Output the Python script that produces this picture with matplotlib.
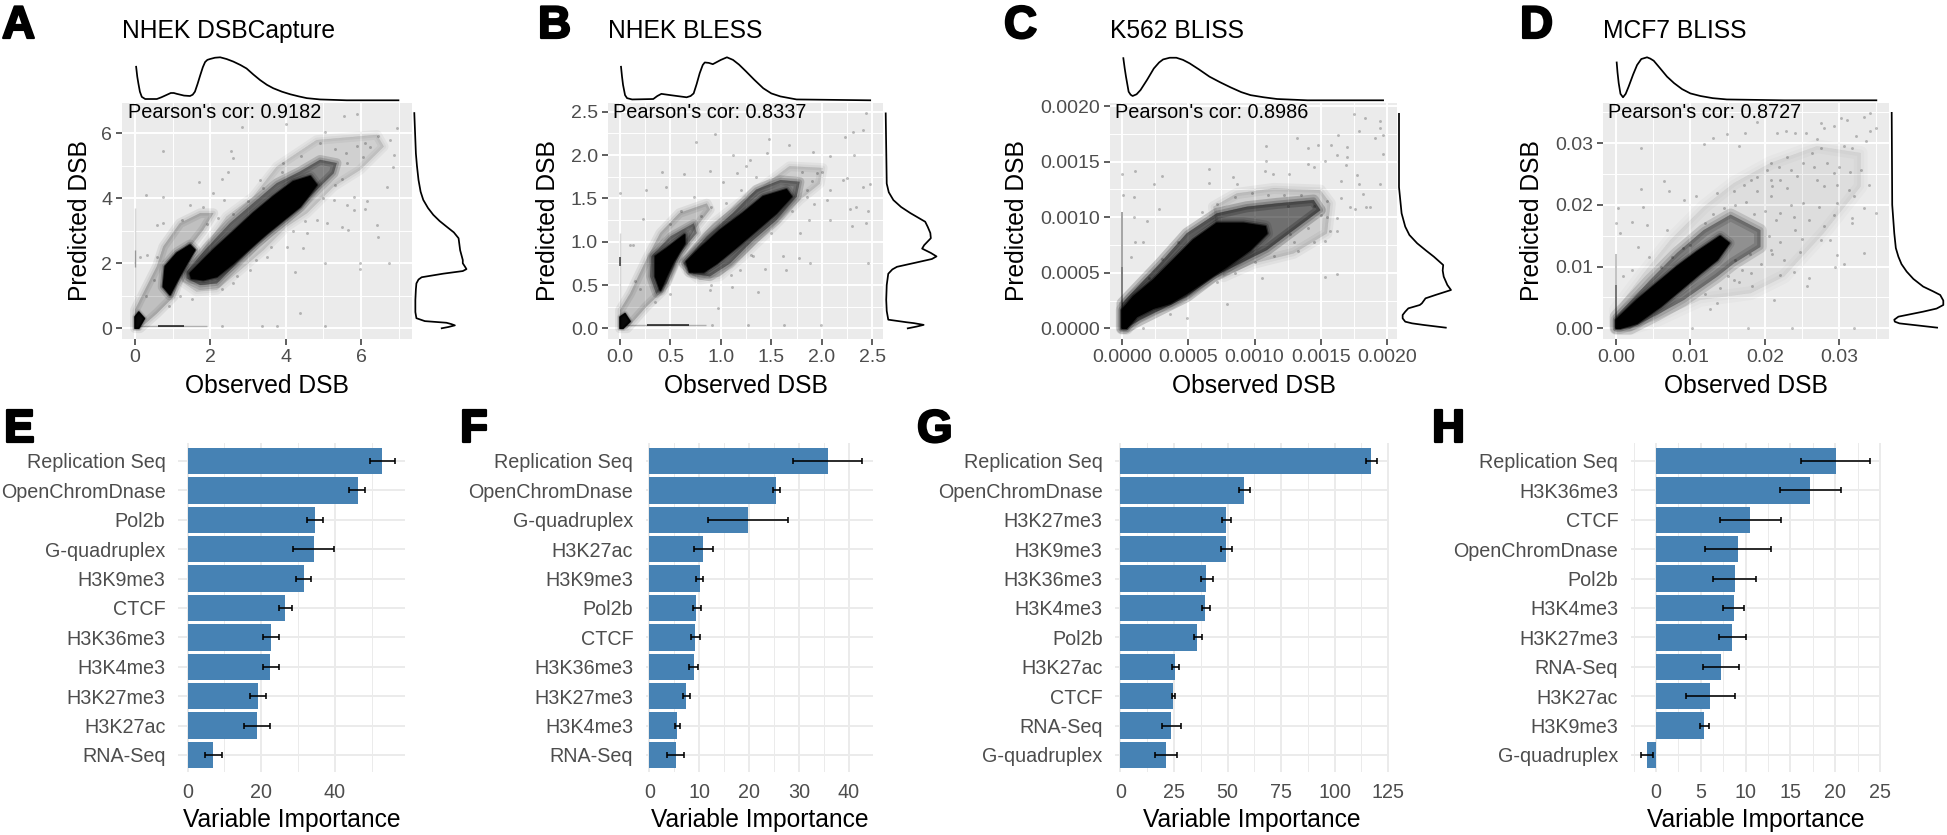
import numpy as np
import matplotlib
matplotlib.use("Agg")
import matplotlib.pyplot as plt
from matplotlib.patches import Polygon
import matplotlib.patheffects as pe

plt.rcParams['font.family'] = ['Liberation Sans', 'DejaVu Sans']
W, H = 1947, 835

# ---------- scatter panels: titles and correlations ----------
titles = ["NHEK DSBCapture", "NHEK BLESS", "K562 BLISS", "MCF7 BLISS"]
cors = ["0.9182", "0.8337", "0.8986", "0.8727"]

# ---------- panel A ----------
A_core = [(1.46,1.69),(2.08,2.41),(2.61,2.97),(3.14,3.54),(3.67,4.05),(4.20,4.51),(4.65,4.67),(4.82,4.41),(4.38,3.74),(3.94,3.33),(3.50,2.92),(3.05,2.46),(2.61,2.00),(2.17,1.59),(1.81,1.49),(1.50,1.54)]
A_core2 = [(0.80,1.90),(1.11,2.31),(1.46,2.56),(1.59,2.41),(1.33,1.90),(1.11,1.44),(0.93,1.03),(0.75,1.28)]
A_mid = [(1.37,1.74),(1.90,2.46),(2.52,3.23),(3.14,3.85),(3.76,4.46),(4.38,4.82),(4.91,5.18),(5.35,5.08),(5.27,4.77),(4.82,4.26),(4.29,3.64),(3.76,3.13),(3.23,2.62),(2.70,2.0),(2.17,1.38),(1.73,1.33),(1.37,1.54)]
A_outer = [(1.19,1.74),(1.73,2.31),(2.43,3.44),(3.14,4.05),(3.76,4.97),(4.82,5.79),(6.42,5.95),(6.6,5.59),(5.97,4.87),(5.27,4.36),(4.56,3.54),(4.03,3.13),(3.41,2.41),(2.79,1.79),(2.17,1.18),(1.63,1.13),(1.24,1.44)]
A_diag = [(0,0),(0,0.56),(0.13,0.87),(0.58,1.90),(0.75,2.51),(1.19,3.23),(1.73,3.54),(2.08,3.54),(1.81,3.03),(1.46,2.51),(1.19,1.59),(1.02,0.97),(0.58,0.46),(0.13,0)]
A_origin = [(0,0),(0,0.35),(0.1,0.5),(0.25,0.3),(0.1,0)]
A_hstreak = [(0.6,0.08),(1.3,0.08)]
A_hstreak2 = [(0.1,0.08),(1.9,0.08)]
A_vstreak = [(0,0),(0,3.7)]
A_vstreak2 = [(0,1.9),(0,2.4)]
A_points = [(5.55,6.54),(5.9,6.6),(2.83,6.2),(4.0,6.27),(5.04,6.05),(6.96,6.15),(.73,5.46),(2.54,5.46),(2.6,5.23),(2.48,4.82),(2.3,4.6),(1.7,4.5),(.28,4.1),(.75,4.05),(2.08,4.15),(2.35,3.95),(1.81,3.74),(6.86,5.33),(6.84,4.97),(6.68,4.36),(5.8,4.05),(6.15,3.9),(5.8,3.64),(6.09,3.66),(5.62,3.79),(5.27,3.95),(5.09,3.23),(5.49,3.13),(5.66,3.03),(6.46,2.82),(6.42,3.18),(6.73,2.0),(5.96,2.0),(5.96,1.83),(4.47,2.46),(4.25,1.74),(5.04,2.0),(4.38,.46),(3.36,.08),(3.76,.08),(5.04,.08),(2.3,.08),(.58,3.18),(.75,3.23),(1.24,3.33),(1.46,3.79),(.13,2.2),(.31,2.26),(.58,2.2),(6.46,5.9),(6.77,5.8),(6.24,5.59),(6.06,5.28),(5.62,5.08),(4.91,5.69),(3.94,5.08),(3.32,4.56),(4.56,2.92),(4.82,3.33),(4.03,2.51),(3.5,2.2),(3.05,1.79),(2.61,1.38),
            (5.3,5.5),(5.6,5.4),(5.9,5.6),(6.1,5.7),(5.5,4.6),(5.3,4.4),(5,4),(4.5,3.3),(4.2,3),(3.6,2.5),(3.2,2.1),(2.7,1.6),(2.3,1.2),(1.9,3.2),(2.2,3.4),(2.6,3.5),(3.0,3.9),(3.4,4.3),(3.9,4.8),(4.4,5.3),(.3,1.0),(.5,1.5),(.9,.7),(1.2,1.0),(1.5,.9)]
A_top_x = [.03,.06,.09,.13,.18,.27,.45,.58,.70,.80,.95,1.03,1.11,1.3,1.46,1.53,1.59,1.66,1.73,1.80,1.86,1.92,1.99,2.12,2.26,2.43,2.61,2.8,2.96,3.14,3.32,3.5,3.67,3.9,4.12,4.35,4.56,4.91,5.62,6.99]
A_top_d = [.78,.55,.39,.2,.08,.03,.03,.03,.07,.11,.17,.17,.15,.11,.10,.13,.20,.38,.58,.77,.89,.94,.96,.99,1.0,.96,.90,.82,.74,.60,.47,.36,.28,.20,.14,.09,.05,.02,0,0]
A_right_y = [0,.04,.09,.13,.17,.22,.31,.5,.87,1.2,1.38,1.5,1.57,1.68,1.76,1.82,1.9,2.0,2.10,2.4,2.77,2.95,3.13,3.3,3.49,3.7,3.95,4.2,4.56,5,5.38,6.62]
A_right_d = [.52,.65,.77,.70,.61,.2,.04,.02,.02,.03,.04,.08,.14,.55,.92,.99,.96,.92,.92,.87,.84,.75,.61,.48,.36,.26,.17,.12,.08,.05,.03,0]

# ---------- panel B ----------
B_core = [(0.66,0.77),(0.79,0.92),(0.99,1.13),(1.22,1.33),(1.42,1.52),(1.65,1.60),(1.70,1.52),(1.55,1.33),(1.35,1.13),(1.16,0.94),(0.96,0.75),(0.83,0.65),(0.69,0.65)]
B_core2 = [(0.35,0.83),(0.46,0.92),(0.64,1.08),(0.64,0.98),(0.53,0.77),(0.46,0.60),(0.40,0.44),(0.35,0.60)]
B_mid = [(0.63,0.75),(0.86,1.06),(1.12,1.33),(1.35,1.60),(1.59,1.71),(1.78,1.69),(1.75,1.52),(1.55,1.25),(1.32,1.02),(1.09,0.75),(0.89,0.60),(0.73,0.63)]
B_outer = [(0.61,0.79),(0.92,1.21),(1.22,1.48),(1.45,1.67),(1.68,1.87),(2.01,1.85),(1.98,1.67),(1.78,1.48),(1.52,1.17),(1.22,0.83),(0.99,0.60),(0.79,0.56),(0.66,0.67)]
B_diag = [(0,0),(0,0.21),(0.10,0.40),(0.26,0.79),(0.40,1.10),(0.59,1.33),(0.86,1.44),(0.89,1.37),(0.73,1.13),(0.56,0.79),(0.43,0.44),(0.26,0.25),(0.07,0)]
B_mid2 = [(0.31,0.83),(0.50,1.06),(0.73,1.21),(0.76,1.10),(0.59,0.87),(0.46,0.52),(0.36,0.40),(0.30,0.60)]
B_origin = [(0,0),(0,0.13),(0.05,0.17),(0.1,0.08),(0.03,0)]
B_hstreak = [(0.27,0.04),(0.68,0.04)]
B_hstreak2 = [(0.05,0.04),(0.85,0.04)]
B_vstreak = [(0,0),(0,1.1)]
B_vstreak2 = [(0,0.72),(0,0.82)]
B_points = [(2.44,2.48),(2.41,2.29),(2.31,2.27),(2.23,2.21),(.94,2.24),(.75,2.15),(1.48,2.19),(1.68,2.12),(1.12,2.0),(1.46,2.02),(1.91,2.04),(2.08,1.99),(2.32,2.0),(1.29,1.94),(1.25,1.87),(.42,1.8),(.63,1.78),(.89,1.81),(1.16,1.79),(.26,1.6),(0,1.56),(.46,1.63),(.73,1.52),(1.02,1.69),(2.21,1.71),(2.25,1.73),(2.08,1.6),(2.41,1.63),(2.48,1.67),(2.05,1.48),(2.28,1.38),(2.34,1.4),(2.46,1.35),(2.08,1.25),(2.3,1.18),(2.44,1.21),(2.46,.75),(1.88,.75),(1.78,1.1),(1.87,1.25),(1.62,.83),(1.77,.81),(1.44,.69),(1.65,.67),(1.37,.42),(1.11,.48),(.97,.23),(.89,.44),(.23,1.26),(.13,.96),(.1,.96),(1.27,.04),(1.63,.04),(1.99,.04),(.91,.04),(1.85,1.52),(1.95,1.79),(1.92,1.44),(1.32,.83),(1.19,.67),
            (1.8,1.8),(1.9,1.7),(2.0,1.8),(1.85,1.6),(1.7,1.35),(1.5,1.1),(1.3,.85),(1.1,.62),(.9,.5),(.8,1.3),(.9,1.4),(1.05,1.45),(1.2,1.6),(1.35,1.75),(.6,1.35),(.5,1.2),(.15,.55),(.2,.45),(.35,.3),(.5,.4)]
B_top_x = [.01,.02,.03,.05,.07,.12,.33,.37,.41,.5,.66,.7,.73,.76,.79,.82,.84,.88,.92,1.0,1.06,1.12,1.18,1.25,1.33,1.42,1.5,1.59,1.75,2.48]
B_top_d = [.78,.55,.36,.12,.05,.02,.03,.1,.15,.12,.07,.10,.16,.38,.63,.82,.88,.87,.84,.94,1.0,.94,.83,.67,.48,.28,.16,.09,.02,0]
B_right_y = [0,.02,.04,.06,.07,.10,.2,.33,.5,.63,.68,.71,.76,.80,.83,.87,.92,.96,1.04,1.1,1.17,1.23,1.33,1.4,1.48,1.57,1.67,2.48]
B_right_d = [.43,.6,.74,.55,.41,.05,.02,.01,.02,.05,.13,.22,.6,.9,.99,.88,.71,.75,.88,.87,.82,.77,.48,.3,.15,.06,.02,0]

# ---------- panel C (values in units of 1e-3) ----------
C_core = [(0,0),(0,.165),(.086,.285),(.237,.435),(.388,.615),(.539,.795),(.715,.945),(.917,.945),(1.081,.915),(1.093,.855),(.967,.705),(.791,.555),(.640,.435),(.489,.315),(.363,.225),(.237,.180),(.111,.105),(.035,0)]
C_mid = [(0,0),(0,.225),(.287,.585),(.489,.855),(.715,1.034),(.942,1.094),(1.169,1.124),(1.446,1.154),(1.496,1.064),(1.295,.885),(1.093,.705),(.892,.585),(.690,.465),(.489,.285),(.312,.180),(.136,.075),(.023,0)]
C_outer = [(.690,1.094),(.866,1.214),(1.144,1.259),(1.496,1.244),(1.572,1.124),(1.546,.855),(1.295,.675),(.992,.585),(.766,.465)]
C_vstreak = [(0,0),(0,1.05)]
C_vstreak2 = [(0,0),(0,.55)]
C_points = [(1.75,1.93),(1.83,1.89),(1.95,1.87),(1.95,1.80),(1.79,1.78),(1.37,1.90),(1.63,1.74),(1.58,1.65),(1.40,1.62),(1.48,1.65),(1.09,1.64),(1.32,1.71),(1.97,1.74),(1.97,1.57),(1.91,1.71),(1.70,1.63),(1.62,1.56),(1.70,1.54),(1.53,1.51),(1.40,1.48),(1.45,1.45),(1.69,1.47),(1.09,1.51),(1.08,1.42),(1.14,1.39),(1.26,1.39),(.84,1.36),(.87,1.30),(.66,1.43),(.66,1.31),(.30,1.37),(.10,1.42),(0,1.39),(.24,1.30),(.01,1.2),(.09,1.18),(1.65,1.33),(1.77,1.38),(1.79,1.30),(1.95,1.30),(1.82,1.21),(1.76,1.07),(1.72,1.09),(1.84,1.09),(1.87,1.09),(1.65,1.17),(1.62,.99),(1.57,.88),(1.53,.79),(1.45,.78),(1.33,.70),(1.27,.85),(1.06,.45),(1.53,.46),(1.62,.49),(.79,.22),(.49,.09),(.36,.13),(.16,0),(.28,1.07),(.19,.97),(.09,1.0),(.10,.78),(.16,.78),(.07,.64),(1.62,.88),(1.55,1.0),
            (.6,1.05),(.72,1.12),(.85,1.18),(.98,1.22),(1.1,1.2),(1.22,1.2),(1.35,1.2),(1.45,1.1),(1.5,1.02),(1.4,.9),(1.3,.78),(1.15,.65),(1.0,.6),(.85,.5),(.72,.42),(.42,.78),(.3,.62),(.2,.45),(1.55,1.15),(1.25,1.1)]
C_top_x = [.01,.02,.03,.05,.065,.08,.11,.14,.19,.24,.28,.31,.36,.41,.46,.51,.58,.66,.74,.82,.9,.97,1.07,1.17,1.40,1.97]
C_top_d = [.98,.75,.55,.2,.13,.10,.14,.24,.48,.74,.88,.95,.99,.99,.94,.86,.72,.55,.42,.30,.19,.12,.07,.03,0,0]
C_right_y = [.006,.03,.045,.06,.09,.12,.15,.18,.21,.225,.27,.30,.345,.39,.465,.52,.57,.645,.70,.765,.84,.915,1.035,1.27,1.93]
C_right_d = [.90,.48,.25,.12,.07,.07,.12,.18,.40,.44,.51,.70,1.0,.93,.86,.84,.85,.67,.52,.35,.2,.12,.05,0,0]

# ---------- panel D (values in units of 1e-3) ----------
D_core = [(0,0),(0,1.35),(2.83,4.59),(5.52,7.30),(8.21,10.0),(10.9,12.4),(14.0,14.9),(15.2,13.8),(13.6,11.1),(11.3,8.9),(8.65,6.2),(5.96,3.5),(2.83,.81),(.58,0)]
D_mid = [(0,0),(0,1.9),(4.62,7.84),(8.21,12.2),(11.8,15.9),(15.4,18.4),(19.4,15.9),(19.4,13.2),(15.8,10.5),(13.6,8.4),(9.1,4.6),(5.5,2.2),(1.9,0)]
D_outer = [(0,0),(0,3),(3.7,8.9),(7.3,14.3),(11.8,19.7),(15.8,23.5),(20.8,26.8),(27,29.5),(32.9,28.4),(32.9,23),(27.9,15.4),(22.6,8.4),(18.1,5.7),(11.3,4.6),(5.5,1.35),(1.9,0)]
D_vstreak = [(0,0),(0,12)]
D_vstreak2 = [(0,0),(0,7)]
D_points = [(34.2,34.9),(33.3,34.2),(31.1,33.8),(30.2,34.1),(29.3,32.7),(27.9,32.4),(27.5,33.2),(34.9,32.4),(34.2,31.9),(32.2,31.1),(33.6,30.3),(25.5,31.6),(24.1,31.6),(22.8,31.9),(21.7,31.7),(19,33.4),(17.4,31.6),(14.9,31.5),(13.1,30.8),(11.8,29.8),(3.4,29.2),(16.5,29.5),(27,30.6),(30.6,29.5),(31.7,29.2),(27.5,29.2),(26.4,28.4),(25.2,26.8),(23,27.8),(20.8,26.8),(20.3,25.7),(21.9,26.2),(23.5,25.7),(26.6,26.2),(28.4,26.8),(30,26.2),(31.5,25.4),(32.9,25.7),(29.3,25.1),(27,24),(24.3,24.6),(22.1,24),(20.8,24),(18.1,24),(17.2,23.2),(15.8,22.2),(13.6,21.9),(6.4,23.9),(3.4,22.5),(7.1,22.2),(9.1,20.8),(10.7,21.4),(3.6,19.7),(.27,19.5),(27.9,23),(29.7,23.2),(31.3,22.4),(34,23.2),(33.3,19.5),(32,21.4),(29.7,20.3),(27.3,19.7),(25.2,20.3),(23,22.7),(20.8,21.4),(19,22.2),(22.1,18.6),(23.9,18.1),(25.9,17.6),(27.9,16.5),(29.3,18.4),(31.7,17.8),(31.7,17),(34.9,18.6),(28.8,14.3),(27.5,14.3),(33.3,12.2),(29.7,11.9),(30.6,10.5),(29.5,10),(26,8.1),(25.7,6.9),(21.2,4.6),(18.3,6.8),(22.1,8.6),(23.9,9.2),(24.8,12.4),(22.6,11.1),(20.8,12.7),(18.1,8.9),(15.8,7.8),(13.6,4.1),(12.7,3.2),(10.2,0),(17.8,0),(23.7,0),(32,0),(2.2,17.3),(4.2,16.8),(0,17),(.6,15.4),(6.9,15.9),(3,13.2),(4.4,11.6),(2.2,9.5),(1,8.4),
            (12,17),(13,18.5),(14.5,19.5),(16,20),(17.5,20.5),(18.5,18.5),(20,19),(21.5,17.5),(20.5,15),(22,14),(21,12),(19.5,10.5),(17,9.5),(16,11),(18,12),(15,8.5),(10,13.5),(9,13),(7.5,11.5),(6,10),(12,5.5),(14,6.5),(16.5,7.5),(24,16),(25,14.5),(23.5,20),(19,24.5),(21,23)]
D_top_x = [.09,.2,.36,.6,.94,1.3,1.7,2.3,2.83,3.4,4.17,4.6,5.07,5.9,6.86,7.8,8.88,10,11.35,13,14.9,22.6,35]
D_top_d = [.88,.65,.40,.15,.07,.15,.32,.60,.82,.96,1.0,.97,.92,.75,.55,.40,.26,.16,.10,.05,.02,0,0]
D_right_y = [.11,.49,.8,1.08,1.4,1.89,2.7,3.2,3.78,4.5,5.4,6.0,6.76,8,9.19,10.4,11.6,13,15.4,20,34.9]
D_right_d = [.88,.48,.15,.06,.05,.13,.61,.87,1.0,1.0,.94,.80,.61,.42,.29,.19,.13,.08,.05,.01,0]

# ---------- bar panels ----------
E_labels = ["Replication Seq","OpenChromDnase","Pol2b","G-quadruplex","H3K9me3","CTCF","H3K36me3","H3K4me3","H3K27me3","H3K27ac","RNA-Seq"]
E_values = [52.9,46.2,34.5,34.3,31.5,26.4,22.6,22.5,19.0,18.8,7.0]
E_low = [49.6,43.9,32.4,28.7,29.5,24.7,20.4,20.4,16.9,15.2,4.7]
E_high = [56.4,48.3,36.7,39.9,33.5,28.3,24.8,24.7,21.2,22.4,9.2]
F_labels = ["Replication Seq","OpenChromDnase","G-quadruplex","H3K27ac","H3K9me3","Pol2b","CTCF","H3K36me3","H3K27me3","H3K4me3","RNA-Seq"]
F_values = [35.75,25.3,19.7,10.8,10.1,9.45,9.2,8.9,7.4,5.6,5.3]
F_low = [28.9,24.7,11.8,9.0,9.4,8.7,8.4,8.0,6.8,5.2,3.6]
F_high = [42.7,26.2,27.8,12.7,10.75,10.4,10.2,9.8,8.1,6.2,7.05]
G_labels = ["Replication Seq","OpenChromDnase","H3K27me3","H3K9me3","H3K36me3","H3K4me3","Pol2b","H3K27ac","CTCF","RNA-Seq","G-quadruplex"]
G_values = [117,57.8,49.5,49.3,40.1,39.6,35.9,25.4,24.7,23.5,21.1]
G_low = [114.5,55.4,47.4,46.8,37.4,38,34.2,23.9,23.9,19.3,16.3]
G_high = [119.7,60.3,51.7,52,43.1,41.7,38.2,27.3,25.7,28.1,26.3]
H_labels = ["Replication Seq","H3K36me3","CTCF","OpenChromDnase","Pol2b","H3K4me3","H3K27me3","RNA-Seq","H3K27ac","H3K9me3","G-quadruplex"]
H_values = [20.05,17.2,10.5,9.2,8.8,8.67,8.5,7.25,6.0,5.4,-0.97]
H_low = [16.2,13.8,7.1,5.5,6.4,7.5,7.0,5.3,3.3,4.9,-1.65]
H_high = [23.9,20.6,14.0,12.8,11.2,9.8,10.0,9.3,8.8,5.9,-0.3]

fig = plt.figure(figsize=(W/100, H/100), dpi=100, facecolor='white')

def axpx(l, t, r, b, **kw):
    return fig.add_axes([l/W, 1-b/H, (r-l)/W, (b-t)/H], **kw)

GREY = '#4d4d4d'
TICK = 14.0
LAB = 17.7

def letter(s, x, y):
    fig.text(x/W, 1-y/H, s, fontsize=33, fontweight='bold', color='black', va='baseline', ha='left',
             path_effects=[pe.withStroke(linewidth=1.6, foreground='black')])

def soft_poly(ax, arr, alpha, soft):
    # a filled envelope with round, layered edges, so that the dense point cloud has a soft rim
    if alpha >= 0.9:
        for lw, a in [(soft, .10), (soft*.6, .2), (soft*.3, .5)]:
            ax.add_patch(Polygon(arr, closed=True, facecolor='none', edgecolor='black', lw=lw, alpha=a,
                                 joinstyle='round', zorder=2))
        ax.add_patch(Polygon(arr, closed=True, facecolor='black', edgecolor='black', lw=1.0, alpha=alpha,
                             joinstyle='round', zorder=2))
    else:
        for lw, a in [(soft, alpha*.45), (soft*.5, alpha*.45), (0.5, alpha*.4)]:
            ax.add_patch(Polygon(arr, closed=True, facecolor='black', edgecolor='black', lw=lw, alpha=a,
                                 joinstyle='round', zorder=2))

def scatter_panel(box, xlim, ylim, xt, xtl, xm, yt, ytl, ym, scale, polys, streaks, pts,
                  top, right, title, cor, cor_x, ylab_x, mr_box):
    l, t, r, b = box
    ax = axpx(l, t, r, b)
    ax.set_facecolor('#ebebeb')
    ax.set_xlim(*xlim); ax.set_ylim(*ylim)
    ax.set_xticks(xt); ax.set_xticklabels(xtl)
    ax.set_yticks(yt); ax.set_yticklabels(ytl)
    ax.set_xticks(xm, minor=True); ax.set_yticks(ym, minor=True)
    ax.grid(True, which='major', color='white', lw=1.4, zorder=0)
    ax.grid(True, which='minor', color='white', lw=0.7, zorder=0)
    ax.set_axisbelow(True)
    for s in ax.spines.values():
        s.set_visible(False)
    ax.tick_params(which='major', length=4.2, width=1.1, color='#333333', labelsize=TICK, labelcolor=GREY, pad=3)
    ax.tick_params(which='minor', length=0)
    for poly, alpha, soft in polys:
        soft_poly(ax, np.array(poly, float) * scale, alpha, soft)
    for st, lw, alpha in streaks:
        arr = np.array(st, float) * scale
        ax.plot(arr[:, 0], arr[:, 1], color='black', lw=lw, alpha=alpha, zorder=2, solid_capstyle='butt')
    p = np.array(pts, float) * scale
    ax.scatter(p[:, 0], p[:, 1], s=4.5, color='black', alpha=0.24, linewidths=0, zorder=3)
    ax.set_xlabel("Observed DSB", fontsize=LAB, color='black', va='baseline')
    ax.xaxis.set_label_coords(0.5, (b-393)/(b-t))
    ax.set_ylabel("Predicted DSB", fontsize=LAB, color='black', va='center')
    ax.yaxis.set_label_coords((ylab_x-l)/(r-l), 0.5)
    ax.set_title(title, loc='left', fontsize=LAB, color='black', va='baseline', y=(b-38)/(b-t), pad=0)
    ax.text((cor_x-l)/(r-l), (b-117.7)/(b-t), "Pearson's cor: " + cor, transform=ax.transAxes,
            fontsize=14.3, color='black', va='baseline', ha='left', zorder=5)
    # marginal densities
    mt = axpx(l, 57.3, r, 100.3)
    mt.set_xlim(*xlim); mt.set_ylim(0, 1); mt.axis('off')
    mt.plot(np.array(top[0])*scale, top[1], color='black', lw=1.25, clip_on=False, solid_joinstyle='round')
    mr = axpx(mr_box[0], t, mr_box[1], b)
    mr.set_xlim(0, 1); mr.set_ylim(*ylim); mr.axis('off')
    mr.plot(right[1], np.array(right[0])*scale, color='black', lw=1.25, clip_on=False, solid_joinstyle='round')

scatter_panel((122,103,412,339), (-0.345,7.35), (-0.33,6.93),
    [0,2,4,6], ['0','2','4','6'], [1,3,5,7], [0,2,4,6], ['0','2','4','6'], [1,3,5], 1.0,
    [(A_outer,.09,7),(A_diag,.15,7),(A_mid,.33,7),(A_core2,1.0,8),(A_core,1.0,8),(A_origin,.95,4)],
    [(A_hstreak,1.3,.75),(A_hstreak2,1.0,.25),(A_vstreak,1.0,.15),(A_vstreak2,1.0,.3)],
    A_points, (A_top_x,A_top_d), (A_right_y,A_right_d),
    titles[0], cors[0], 128, 80, (414.3,467))

scatter_panel((608,103,883,339), (-0.119,2.607), (-0.123,2.6),
    [0,.5,1,1.5,2,2.5], ['0.0','0.5','1.0','1.5','2.0','2.5'], [.25,.75,1.25,1.75,2.25],
    [0,.5,1,1.5,2,2.5], ['0.0','0.5','1.0','1.5','2.0','2.5'], [.25,.75,1.25,1.75,2.25], 1.0,
    [(B_outer,.1,7),(B_diag,.15,7),(B_mid2,.28,6),(B_mid,.33,7),(B_core2,1.0,8),(B_core,1.0,8),(B_origin,.95,4)],
    [(B_hstreak,1.3,.75),(B_hstreak2,1.0,.25),(B_vstreak,1.0,.15),(B_vstreak2,1.2,.7)],
    B_points, (B_top_x,B_top_d), (B_right_y,B_right_d),
    titles[1], cors[1], 613, 548, (885.7,937))

scatter_panel((1110,103,1397,339), (-0.0906e-3,2.075e-3), (-0.096e-3,2.028e-3),
    [0,.0005,.001,.0015,.002], ['0.0000','0.0005','0.0010','0.0015','0.0020'], [.00025,.00075,.00125,.00175],
    [0,.0005,.001,.0015,.002], ['0.0000','0.0005','0.0010','0.0015','0.0020'], [.00025,.00075,.00125,.00175], 1e-3,
    [(C_outer,.1,8),(C_mid,.42,8),(C_core,1.0,9)],
    [(C_vstreak,1.1,.45),(C_vstreak2,1.1,.3)], C_points, (C_top_x,C_top_d), (C_right_y,C_right_d),
    titles[2], cors[2], 1115, 1017, (1399,1451))

scatter_panel((1603,103,1889,339), (-1.75e-3,36.7e-3), (-1.73e-3,36.5e-3),
    [0,.01,.02,.03], ['0.00','0.01','0.02','0.03'], [.005,.015,.025,.035],
    [0,.01,.02,.03], ['0.00','0.01','0.02','0.03'], [.005,.015,.025,.035], 1e-3,
    [(D_outer,.04,10),(D_mid,.3,9),(D_core,1.0,8)],
    [(D_vstreak,1.1,.3),(D_vstreak2,1.1,.5)], D_points, (D_top_x,D_top_d), (D_right_y,D_right_d),
    titles[3], cors[3], 1608, 1532, (1891.7,1943.3))

def bar_panel(box, xlim, labels, values, low, high, xt, xm):
    l, t, r, b = box
    ax = axpx(l, t, r, b)
    y = np.arange(len(labels))
    v, lo, hi = np.array(values), np.array(low), np.array(high)
    ax.barh(y, v, height=0.9, color='#4682b4', edgecolor='none', zorder=2)
    ax.errorbar((lo+hi)/2, y, xerr=(hi-lo)/2, fmt='none', ecolor='black', elinewidth=1.15,
                capsize=1.9, capthick=1.15, zorder=3)
    ax.set_xlim(*xlim)
    ax.set_ylim(10.58, -0.61)
    ax.set_yticks(y); ax.set_yticklabels(labels)
    ax.set_xticks(xt); ax.set_xticklabels([str(i) for i in xt])
    ax.set_xticks(xm, minor=True)
    ax.grid(True, which='major', color='#ebebeb', lw=1.4, zorder=0)
    ax.grid(True, which='minor', axis='x', color='#ebebeb', lw=0.7, zorder=0)
    ax.set_axisbelow(True)
    for s in ax.spines.values():
        s.set_visible(False)
    ax.tick_params(which='both', length=0, labelsize=14.2, labelcolor=GREY)
    ax.tick_params(axis='x', pad=8)
    ax.tick_params(axis='y', pad=9)
    ax.set_xlabel("Variable Importance", fontsize=LAB, color='black', va='baseline')
    ax.xaxis.set_label_coords(0.5, (b-826.7)/(b-t))

bar_panel((178,443,405,772), (-2.64,59.1), E_labels, E_values, E_low, E_high, [0,20,40], [10,30,50])
bar_panel((645.7,443,873.3,772), (-0.72,44.9), F_labels, F_values, F_low, F_high, [0,10,20,30,40], [5,15,25,35])
bar_panel((1115,443,1388.5,772), (-2.5,125.1), G_labels, G_values, G_low, G_high, [0,25,50,75,100,125], [12.5,37.5,62.5,87.5,112.5])
bar_panel((1630.7,443,1880.7,772), (-2.82,25.08), H_labels, H_values, H_low, H_high, [0,5,10,15,20,25], [-2.5,2.5,7.5,12.5,17.5,22.5])

for s, x, y in [("A",2,38),("B",538,38),("C",1004,38),("D",1520,38),
                ("E",4,442),("F",460,442),("G",917,442),("H",1432,442)]:
    letter(s, x, y)

fig.savefig("out.png", dpi=100, facecolor='white')
